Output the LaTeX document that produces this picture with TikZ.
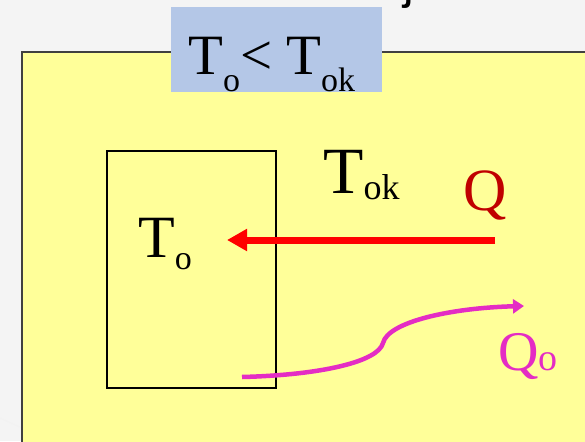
\documentclass[tikz,border=0pt]{standalone}
\usepackage{fontspec}
\setmainfont{Liberation Serif}
\newfontfamily\sansj{Liberation Sans}
\usetikzlibrary{arrows.meta}
\definecolor{slidegray}{RGB}{244,244,244}
\definecolor{envyellow}{RGB}{255,255,153}
\definecolor{headblue}{RGB}{180,199,231}
\definecolor{heatred}{RGB}{192,0,0}
\definecolor{lossmag}{RGB}{228,44,196}
% big letter with a lowered index: size, index size, drop, index
\newcommand\bigidx[4]{{\fontsize{#1}{#1}\selectfont T\raisebox{-#3pt}{\fontsize{#2}{#2}\selectfont #4}}}

\begin{document}
\begin{tikzpicture}[x=1pt, y=-1pt, every node/.style={inner sep=0pt, anchor=base west},
	heatflow/.style={draw=red, line width=7pt, -{Triangle[length=20pt, width=21pt]}},
	lossflow/.style={draw=lossmag, line width=4.5pt, -{Triangle[length=11pt, width=14pt]}}]
	\useasboundingbox (0,0) rectangle (585,441);
	\clip (0,0) rectangle (585,441);
	% slide background
	\fill[slidegray] (0,0) rectangle (585,441);
	\draw[black!5, line width=1pt] (0,418) -- (24,429);
	\node[font=\sansj\fontsize{48}{48}\selectfont] (title) at (403.5,-1) {j};
	% surroundings and body
	\filldraw[fill=envyellow, draw=black!75, line width=1.6pt] (22,52) rectangle (600,460);
	\fill[headblue] (171,7) rectangle (382,92);
	\node (cond) at (188,75) {\bigidx{57}{34}{17}{o}{\fontsize{57}{57}\selectfont< }\bigidx{57}{34}{17}{ok}};
	\draw[black, line width=1.5pt] (107,151) rectangle (276,388);
	% labels
	\node (tbody) at (138,257) {\bigidx{60}{34}{12}{o}};
	\node (tenv) at (323,193) {\bigidx{66}{36}{6}{ok}};
	\node[text=heatred, font=\fontsize{60}{60}\selectfont] (qin) at (463,210) {Q};
	\node[text=lossmag] (qout) at (498,370) {{\fontsize{56}{56}\selectfont Q}{\fontsize{38}{38}\selectfont o}};
	% heat flows
	\coordinate (qtail) at (495,240);
	\coordinate (qtip) at (227,240);
	\draw[heatflow] (qtail) -- (qtip);
	\coordinate (losstail) at (242,377);
	\coordinate (lossbend) at (383,343);
	\coordinate (losstip) at (524,306);
	\draw[lossflow] (losstail) .. controls (320,375) and (378,362) .. (lossbend) .. controls (388,322) and (450,308) .. (losstip);
\end{tikzpicture}
\end{document}
